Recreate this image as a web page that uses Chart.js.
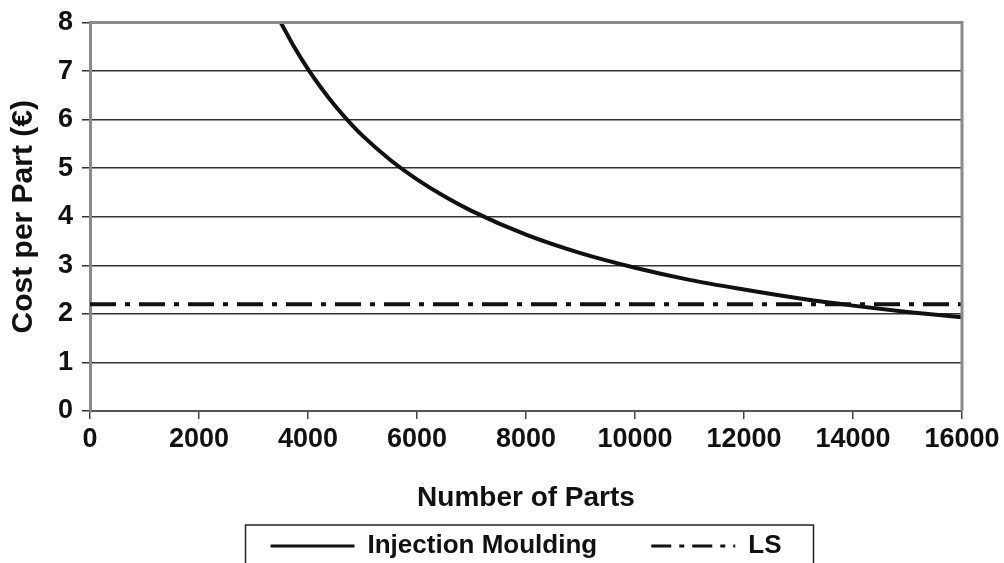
<!DOCTYPE html>
<html>
<head>
<meta charset="utf-8">
<script src="https://cdn.jsdelivr.net/npm/chart.js@4"></script>
<style>
  html, body { margin: 0; padding: 0; background: #fff; }
  #wrap { width: 1004px; height: 563px; }
</style>
</head>
<body>
<div id="wrap"><canvas id="costChart" width="1004" height="563"></canvas></div>
<script>
// values
const parts = [3500, 3750, 4000, 4250, 4500, 4750, 5000, 5500, 6000, 6500, 7000, 8000, 9000, 10000, 11000, 12000, 13000, 14000, 15000, 16000];
const injectionCost = [8.0, 7.49, 7.04, 6.64, 6.28, 5.96, 5.67, 5.18, 4.77, 4.42, 4.12, 3.63, 3.25, 2.95, 2.7, 2.5, 2.32, 2.17, 2.04, 1.93];
const lsParts = [0, 16000];
const lsCost = [2.2, 2.2];
const xTicks = [0, 2000, 4000, 6000, 8000, 10000, 12000, 14000, 16000];
const yTicks = [0, 1, 2, 3, 4, 5, 6, 7, 8];

const FONT = "'Liberation Sans', Arial, sans-serif";
Chart.defaults.font.family = FONT;
Chart.defaults.color = "#111";

// gray frame on top and right of the plot, box round the legend
const framePlugin = {
  id: "frame",
  afterDatasetsDraw(chart) {
    const a = chart.chartArea;
    const c = chart.ctx;
    c.save();
    c.strokeStyle = "#8a8a8a";
    c.lineWidth = 3;
    c.beginPath();
    c.moveTo(a.left, a.top);
    c.lineTo(a.right, a.top);
    c.lineTo(a.right, a.bottom);
    c.stroke();
    c.restore();
  },
  afterDraw(chart) {
    const boxes = chart.legend.legendHitBoxes;
    if (!boxes || !boxes.length) return;
    const c = chart.ctx;
    let l = Infinity, r = -Infinity, t = Infinity;
    boxes.forEach(b => { l = Math.min(l, b.left); r = Math.max(r, b.left + b.width); t = Math.min(t, b.top); });
    c.save();
    c.strokeStyle = "#222";
    c.lineWidth = 1.5;
    c.strokeRect(l - 25, t - 8, (r - l) + 57, 80);
    c.restore();
  }
};

new Chart(document.getElementById("costChart").getContext("2d"), {
  type: "line",
  data: {
    datasets: [
      {
        label: "Injection Moulding     ",
        data: parts.map((p, i) => ({ x: p, y: injectionCost[i] })),
        borderColor: "#111",
        backgroundColor: "#111",
        borderWidth: 4,
        pointRadius: 0,
        cubicInterpolationMode: "monotone",
        fill: false
      },
      {
        label: "LS",
        data: lsParts.map((p, i) => ({ x: p, y: lsCost[i] })),
        borderColor: "#111",
        backgroundColor: "#111",
        borderWidth: 4,
        borderDash: [26, 9, 5, 9],
        pointRadius: 0,
        fill: false
      }
    ]
  },
  options: {
    responsive: false,
    animation: false,
    layout: { padding: { left: 0, right: 42, top: 9, bottom: -6 } },
    plugins: {
      tooltip: { enabled: false },
      legend: {
        position: "bottom",
        fullSize: false,
        labels: {
          usePointStyle: true,
          pointStyle: "line",
          pointStyleWidth: 84,
          color: "#111",
          font: { size: 26, weight: "bold" },
          padding: 18,
          generateLabels: chart => Chart.defaults.plugins.legend.labels.generateLabels(chart).map(item => {
            const ds = chart.data.datasets[item.datasetIndex];
            item.lineDash = ds.borderDash ? [20, 8, 5, 8] : [];
            item.lineWidth = 3;
            item.strokeStyle = "#111";
            return item;
          })
        }
      }
    },
    scales: {
      x: {
        type: "linear",
        min: 0,
        max: 16000,
        afterBuildTicks: s => { s.ticks = xTicks.map(v => ({ value: v })); },
        ticks: { font: { size: 27, weight: "bold" }, color: "#111", padding: 4, maxRotation: 0, callback: v => String(v) },
        grid: { drawOnChartArea: false, drawTicks: true, tickLength: 8, color: "#444", lineWidth: 1.5 },
        border: { display: true, color: "#555", width: 2 },
        title: {
          display: true,
          text: "Number of Parts",
          font: { size: 28, weight: "bold" },
          color: "#111",
          padding: { top: 22, bottom: 0 }
        }
      },
      y: {
        min: 0,
        max: 8,
        afterBuildTicks: s => { s.ticks = yTicks.map(v => ({ value: v })); },
        afterFit: s => { s.width = 90; },
        ticks: { font: { size: 27, weight: "bold", lineHeight: 1.0 }, color: "#111", padding: 9 },
        grid: { color: "#333", lineWidth: 1.5, tickLength: 8 },
        border: { display: true, color: "#8a8a8a", width: 3 },
        title: {
          display: true,
          text: "Cost per Part (€)",
          font: { size: 30, weight: "bold" },
          color: "#111",
          padding: { top: 6, bottom: 0 }
        }
      }
    }
  },
  plugins: [framePlugin]
});
</script>
</body>
</html>
